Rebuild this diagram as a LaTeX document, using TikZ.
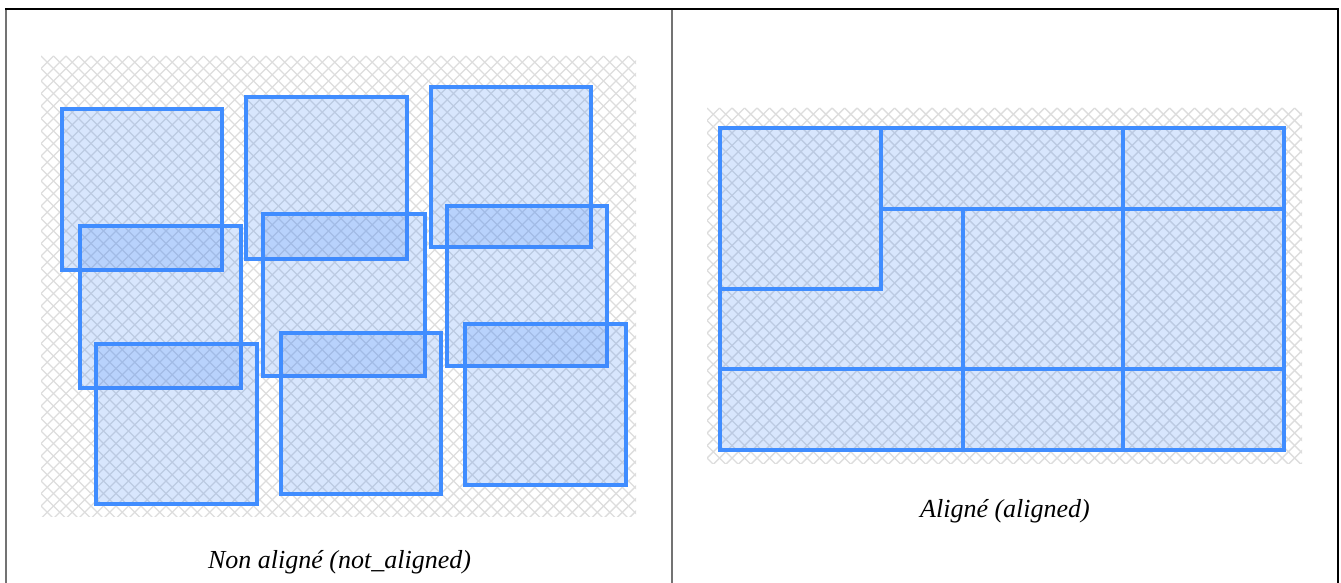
\documentclass[tikz,border=0pt]{standalone}
\usepackage{fontspec}
\setmainfont{Liberation Serif}
\definecolor{boxblue}{RGB}{59,130,246}
\definecolor{edgeblue}{RGB}{64,141,255}
\definecolor{hatchgray}{RGB}{221,221,221}
\newcommand\hatchregion[4]{%
  \begin{scope}
    \clip (#1,#2) rectangle (#3,#4);
    \foreach \k in {-45,...,95} {
      \draw[hatchline] (#1+12.5*\k,#2) -- ++(700,700);
      \draw[hatchline] (#1+12.5*\k,#2) -- ++(-700,700);
    }
  \end{scope}}
\begin{document}
\begin{tikzpicture}[x=1pt,y=-1pt,
  hatchline/.style={draw=hatchgray,line width=1.4pt},
  boxshape/.style={draw=edgeblue,line width=3.5pt,fill=boxblue,fill opacity=0.2,draw opacity=1},
  framegray/.style={draw=black!55,line width=1.4pt},
  frameblack/.style={draw=black,line width=1.3pt},
  caption/.style={font=\itshape\fontsize{26}{30}\selectfont,anchor=base,inner sep=0pt}]
\useasboundingbox (0,0) rectangle (1341,583);
% frame
\draw[framegray] (6,9) -- (6,583);
\draw[framegray] (672,9) -- (672,583);
\draw[frameblack] (1338,9) -- (1338,583);
\draw[frameblack] (5.3,9) -- (1338.6,9);
% left panel
\hatchregion{41}{56}{636}{516}
\draw[boxshape] (62,109) rectangle (222,270);
\draw[boxshape] (246,97) rectangle (407,259);
\draw[boxshape] (431,87) rectangle (591,247);
\draw[boxshape] (80,226) rectangle (241,388);
\draw[boxshape] (263,214) rectangle (425,376);
\draw[boxshape] (447,206) rectangle (607,366);
\draw[boxshape] (96,344) rectangle (257,504);
\draw[boxshape] (281,333) rectangle (441,494);
\draw[boxshape] (465,324) rectangle (626,485);
\node[caption] (lblnon) at (339.5,568) {Non aligné (not\_aligned)};
% right panel
\hatchregion{707}{108}{1302}{463}
\draw[boxshape] (720,128) rectangle (881,289);
\draw[boxshape] (881,128) rectangle (1123,209);
\draw[boxshape] (1123,128) rectangle (1284,209);
\draw[boxshape] (720,289) -- (881,289) -- (881,209) -- (963,209) -- (963,369) -- (720,369) -- cycle;
\draw[boxshape] (963,209) rectangle (1123,369);
\draw[boxshape] (1123,209) rectangle (1284,369);
\draw[boxshape] (720,369) rectangle (963,450);
\draw[boxshape] (963,369) rectangle (1123,450);
\draw[boxshape] (1123,369) rectangle (1284,450);
\node[caption] (lblal) at (1005,517) {Aligné (aligned)};
\end{tikzpicture}
\end{document}
